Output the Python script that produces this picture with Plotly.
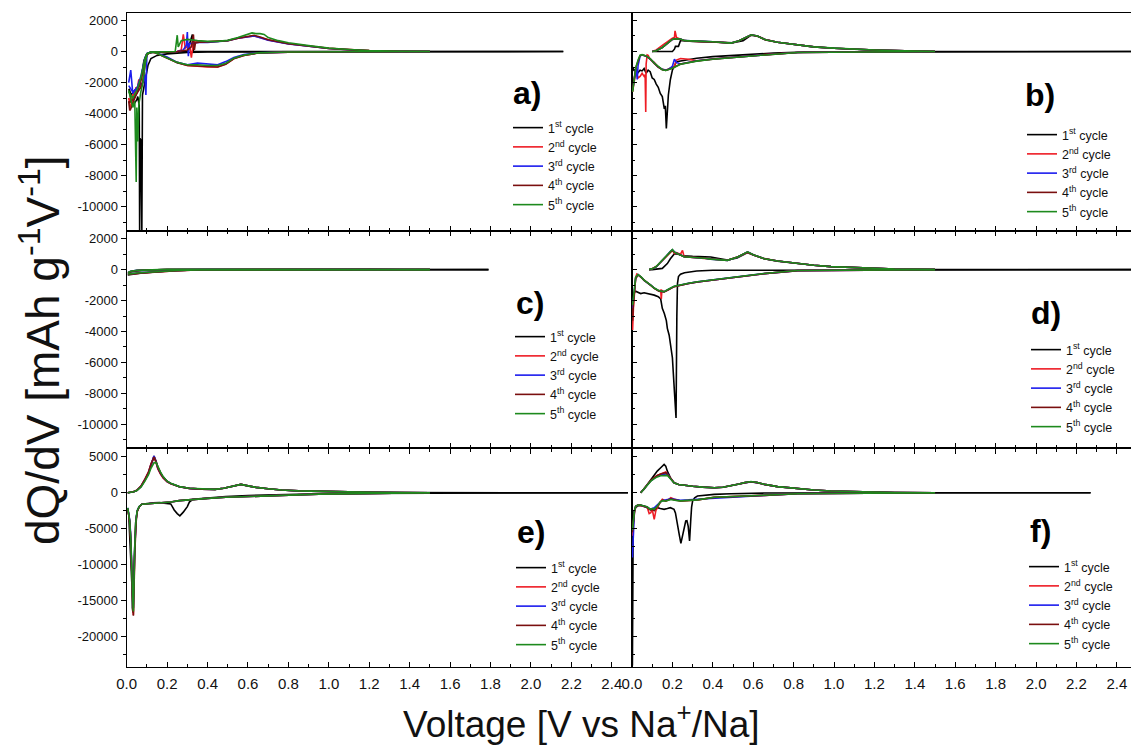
import plotly.graph_objects as go

N = None
# ---------------- panel a ----------------
a1_v = [2.16,1.5,1.0,0.6,0.4,0.3,0.2,0.15,0.12,0.105,0.095,0.085,0.078,0.075,0.073,0.07,0.066,0.064,0.062,0.058,0.055,0.05,0.04,0.03,0.02,0.012,N,
        0.012,0.02,0.04,0.06,0.075,0.085,0.1,0.13,0.18,0.25,0.3,0.325,0.33,0.5,1.0,2.16]
a1_q = [0,0,0,-10,-30,-60,-150,-250,-450,-900,-1600,-2300,-2800,-11500,-5800,-5700,-5600,-11500,-3500,-3200,-2900,-3100,-3300,-3500,-3000,-2400,N,
        -2400,-2800,-2500,-2200,-1500,-600,-150,-60,-60,-20,0,1100,0,0,0,0]
a2_v = [1.5,1.2,1.0,0.8,0.65,0.58,0.53,0.49,0.45,0.4,0.35,0.3,0.25,0.2,0.17,0.14,0.12,0.1,0.09,0.08,0.07,0.06,0.05,0.045,0.04,0.03,0.02,0.01,N,
        0.01,0.02,0.03,0.05,0.07,0.09,0.1,0.12,0.15,0.2,0.25,0.27,0.28,0.29,0.31,0.32,0.33,0.36,0.4,0.45,0.5,0.55,0.6,0.63,0.66,0.7,0.8,0.9,1.0,1.1,1.2,1.35,1.5]
a2_q = [0,-5,-15,-40,-100,-250,-450,-800,-1000,-1000,-950,-900,-700,-400,-200,-60,-30,-200,-900,-2000,-2400,-1800,-2600,-2300,-2900,-3200,-3600,-3000,N,
        -3000,-3300,-2800,-2500,-1800,-500,-150,-50,-30,-50,0,100,1100,200,500,-400,600,650,620,650,700,850,950,1000,900,750,500,330,200,120,60,20,0]
a3_v = [1.5,1.2,1.0,0.8,0.65,0.58,0.53,0.49,0.45,0.4,0.35,0.3,0.25,0.2,0.17,0.14,0.12,0.1,0.095,0.09,0.08,0.06,0.04,0.03,0.02,0.015,0.01,N,
        0.01,0.03,0.05,0.07,0.09,0.1,0.12,0.15,0.2,0.25,0.28,0.295,0.3,0.305,0.31,0.33,0.36,0.4,0.45,0.5,0.55,0.6,0.63,0.66,0.7,0.8,0.9,1.0,1.1,1.2,1.35,1.5]
a3_q = [0,-5,-15,-40,-90,-200,-380,-650,-850,-800,-750,-850,-700,-350,-180,-50,-20,-150,-2800,-1500,-2000,-2200,-2500,-2700,-1200,-1500,-2000,N,
        -2200,-2600,-2400,-1600,-400,-120,-40,-30,-40,0,100,400,1250,-300,500,550,600,580,620,700,850,950,1000,880,730,480,320,190,110,50,15,0]
a4_v = [1.5,1.2,1.0,0.8,0.65,0.58,0.53,0.49,0.45,0.4,0.35,0.3,0.25,0.2,0.17,0.14,0.12,0.1,0.09,0.08,0.07,0.06,0.05,0.04,0.03,0.02,0.015,0.01,N,
        0.01,0.03,0.05,0.07,0.09,0.1,0.12,0.15,0.2,0.25,0.3,0.32,0.33,0.335,0.34,0.36,0.4,0.45,0.5,0.55,0.6,0.63,0.66,0.7,0.8,0.9,1.0,1.1,1.2,1.35,1.5]
a4_q = [0,-5,-15,-40,-100,-260,-470,-820,-1000,-980,-950,-900,-720,-420,-220,-70,-30,-200,-800,-1900,-2300,-2500,-2700,-3000,-3400,-3700,-3800,-3200,N,
        -3300,-3100,-2700,-1900,-500,-150,-50,-30,-50,0,100,300,1100,100,550,600,620,640,700,850,1000,1050,930,760,500,330,200,120,60,20,0]
a5_v = [1.5,1.2,1.0,0.8,0.65,0.58,0.53,0.49,0.45,0.4,0.35,0.3,0.25,0.2,0.17,0.14,0.12,0.1,0.09,0.08,0.07,0.06,0.055,0.05,0.047,0.044,0.04,0.03,0.02,0.01,N,
        0.01,0.03,0.05,0.07,0.09,0.1,0.12,0.15,0.2,0.24,0.25,0.255,0.27,0.3,0.35,0.4,0.45,0.5,0.55,0.6,0.62,0.64,0.66,0.68,0.7,0.75,0.8,0.9,1.0,1.1,1.2,1.35,1.5]
a5_q = [0,-5,-15,-35,-90,-230,-430,-750,-900,-900,-850,-850,-700,-400,-200,-60,-30,-180,-900,-2000,-2600,-3400,-5800,-3600,-8400,-4000,-3200,-3600,-3000,-2500,N,
        -2600,-3000,-2500,-1700,-450,-130,-40,-20,-30,0,1050,300,700,780,700,650,650,720,900,1100,1200,1150,1150,1100,900,700,560,380,220,130,60,20,0]

# ---------------- panel b ----------------
b1_v = [2.47,1.5,1.2,1.0,0.85,0.7,0.6,0.5,0.4,0.32,0.26,0.22,0.2,0.19,0.18,0.175,0.17,0.165,0.16,0.15,0.14,0.13,0.12,0.11,0.1,0.09,0.08,0.07,0.06,0.05,0.04,0.03,0.02,0.01,0.005,N,
        0.1,0.15,0.2,0.21,0.215,0.23,0.24,0.26,0.3,0.35,0.4,0.45,0.5,0.55,0.59,0.62,0.66,0.72,0.82,0.9,1.0,1.1,1.2,1.35,1.5,2.0,2.47]
b1_q = [0,0,0,-10,-40,-100,-170,-260,-330,-430,-540,-650,-1200,-1800,-2800,-3600,-4950,-3500,-3700,-2900,-2700,-2300,-2100,-1800,-1700,-1300,-1200,-1400,-1100,-1250,-1200,-1350,-1100,-1250,-1000,N,
        0,0,0,150,330,330,700,700,650,640,620,600,560,700,1050,1000,780,600,430,300,210,140,90,40,0,0,0]
b2_v = [1.5,1.2,1.0,0.82,0.66,0.5,0.4,0.32,0.28,0.24,0.22,0.21,0.2,0.18,0.167,0.15,0.13,0.11,0.09,0.08,0.075,0.07,0.068,0.065,0.06,0.05,0.04,0.03,0.02,0.01,0.003,N,
        0.1,0.12,0.15,0.17,0.19,0.2,0.21,0.213,0.22,0.24,0.26,0.3,0.35,0.4,0.45,0.49,0.53,0.57,0.59,0.62,0.66,0.72,0.82,0.9,1.0,1.1,1.2,1.35,1.5]
b2_q = [0,-20,-30,-65,-200,-350,-480,-600,-500,-450,-550,-950,-1000,-1150,-1200,-1150,-1000,-700,-500,-250,-220,-800,-3900,-1500,-1600,-1400,-1600,-1700,-1300,-2000,-2600,N,
        0,100,400,600,750,850,900,1330,900,800,700,660,650,630,590,540,700,950,1075,1000,770,600,430,300,215,140,100,40,0]
b3_v = [1.5,1.2,1.0,0.82,0.66,0.5,0.4,0.32,0.26,0.24,0.22,0.21,0.2,0.18,0.167,0.15,0.13,0.11,0.09,0.07,0.05,0.04,0.03,0.026,0.02,0.01,0.003,N,
        0.1,0.12,0.15,0.18,0.2,0.22,0.24,0.26,0.3,0.35,0.4,0.45,0.49,0.53,0.57,0.59,0.62,0.66,0.72,0.82,0.9,1.0,1.1,1.2,1.35,1.5]
b3_q = [0,-20,-30,-65,-210,-360,-480,-600,-720,-800,-700,-500,-950,-1150,-1200,-1150,-1000,-750,-480,-300,-220,-300,-900,-1800,-1000,-1900,-2500,N,
        0,60,250,550,780,820,800,700,660,650,630,590,540,700,950,1070,1000,760,600,430,300,215,140,100,40,0]
b4_v = [1.5,1.2,1.0,0.82,0.66,0.5,0.4,0.32,0.24,0.2,0.167,0.15,0.13,0.11,0.09,0.07,0.05,0.04,0.03,0.02,0.01,0.003,N,
        0.1,0.12,0.15,0.18,0.2,0.22,0.24,0.26,0.3,0.35,0.4,0.45,0.49,0.53,0.57,0.59,0.62,0.66,0.72,0.82,0.9,1.0,1.1,1.2,1.35,1.5]
b4_q = [0,-20,-30,-65,-215,-365,-490,-610,-810,-1080,-1220,-1170,-1000,-760,-480,-300,-210,-260,-600,-1000,-1800,-2500,N,
        0,50,250,550,780,830,790,690,650,640,620,580,530,690,940,1060,990,750,600,430,300,210,140,100,40,0]
b5_v = [1.5,1.2,1.0,0.82,0.66,0.5,0.4,0.32,0.24,0.2,0.167,0.15,0.13,0.11,0.09,0.07,0.05,0.04,0.03,0.02,0.01,0.003,N,
        0.1,0.12,0.15,0.18,0.2,0.22,0.24,0.26,0.3,0.35,0.4,0.45,0.49,0.53,0.57,0.59,0.62,0.66,0.72,0.82,0.9,1.0,1.1,1.2,1.35,1.5]
b5_q = [0,-20,-30,-65,-220,-370,-500,-620,-820,-1075,-1225,-1170,-980,-740,-450,-280,-200,-240,-550,-970,-1900,-2600,N,
        0,50,260,560,790,820,800,700,660,650,630,590,540,700,950,1080,1000,760,600,440,300,220,140,100,40,0]

# ---------------- panel c ----------------
c1_v = [1.79,1.5,1.0,0.6,0.4,0.3,0.2,0.15,0.1,0.07,0.05,0.035,0.02,0.01,0.005,N,
        0.005,0.02,0.05,0.1,0.2,0.4,0.7,1.0,1.08,1.2,1.5,1.79]
c1_q = [0,0,0,-5,-15,-40,-90,-130,-180,-230,-260,-280,-330,-300,-340,N,
        -250,-150,-80,-30,0,10,20,30,40,20,5,0]
c2_v = [1.5,1.2,1.0,0.7,0.5,0.35,0.25,0.18,0.126,0.08,0.05,0.035,0.02,0.007,N,
        0.007,0.02,0.05,0.1,0.2,0.4,0.7,1.0,1.08,1.2,1.35,1.5]
c2_q = [0,0,-5,-10,-15,-25,-70,-110,-150,-200,-240,-260,-280,-300,N,
        -200,-120,-60,-20,10,20,30,40,55,25,10,0]
c3_v = c2_v
c3_q = [0,0,-5,-10,-15,-20,-60,-100,-140,-190,-230,-250,-270,-290,N,
        -190,-110,-50,-20,10,20,30,45,50,25,10,0]
c4_v = c2_v
c4_q = [0,0,-5,-10,-15,-25,-70,-110,-150,-210,-250,-270,-300,-320,N,
        -210,-120,-60,-20,10,20,30,40,50,25,10,0]
c5_v = c2_v
c5_q = [0,0,-5,-10,-15,-20,-60,-100,-140,-190,-220,-240,-260,-280,N,
        -180,-100,-50,-15,15,25,35,45,50,25,10,0]

# ---------------- panel d ----------------
d1_v = [2.47,1.5,1.0,0.82,0.66,0.5,0.4,0.32,0.26,0.24,0.23,0.225,0.222,0.218,0.215,0.21,0.2,0.19,0.184,0.175,0.17,0.16,0.15,0.142,0.13,0.11,0.09,0.076,0.06,0.043,0.03,0.018,0.01,0.005,N,
        0.085,0.1,0.15,0.175,0.19,0.21,0.23,0.25,0.3,0.35,0.39,0.43,0.473,0.52,0.55,0.572,0.6,0.655,0.72,0.82,0.9,0.985,1.15,1.3,1.5,2.0,2.47]
d1_q = [0,0,0,0,0,-20,-40,-90,-200,-300,-450,-900,-3000,-9600,-8600,-7900,-5700,-4700,-4240,-3800,-3300,-2840,-2500,-1900,-1750,-1650,-1600,-1550,-1500,-1550,-1450,-1400,-1500,-1870,N,
        0,0,80,390,700,1030,1000,900,860,850,820,720,620,750,950,1100,950,700,550,390,280,195,108,40,0,0,0]
d2_v = [1.5,1.15,0.82,0.655,0.49,0.4,0.324,0.28,0.24,0.208,0.18,0.159,0.148,0.145,0.142,0.134,0.11,0.093,0.075,0.06,0.045,0.03,0.024,0.018,0.012,0.007,0.003,N,
        0.085,0.1,0.12,0.142,0.17,0.19,0.2,0.21,0.22,0.24,0.25,0.258,0.29,0.324,0.36,0.39,0.43,0.473,0.52,0.55,0.572,0.6,0.655,0.72,0.82,0.9,0.985,1.15,1.3,1.5]
d2_q = [0,-20,-65,-260,-515,-650,-800,-900,-1010,-1100,-1300,-1440,-1350,-1900,-1300,-1400,-1200,-1010,-850,-690,-500,-320,-280,-500,-1400,-2500,-3900,N,
        0,60,200,500,900,1150,1250,1050,1100,1000,1250,830,800,780,740,680,640,600,800,1000,1130,950,700,560,390,280,195,108,40,0]
d3_v = [1.5,1.15,0.82,0.655,0.49,0.4,0.324,0.28,0.24,0.208,0.18,0.159,0.134,0.11,0.093,0.075,0.06,0.045,0.03,0.018,0.012,0.007,0.003,N,
        0.085,0.1,0.12,0.142,0.17,0.19,0.2,0.21,0.24,0.258,0.29,0.324,0.36,0.39,0.43,0.473,0.52,0.55,0.572,0.6,0.655,0.72,0.82,0.9,0.985,1.15,1.3,1.5]
d3_q = [0,-20,-65,-255,-510,-640,-790,-890,-1000,-1090,-1280,-1430,-1380,-1200,-1010,-850,-690,-480,-330,-550,-1200,-1700,-2500,N,
        0,50,180,470,880,1180,1280,1150,950,830,800,780,740,680,640,600,800,1010,1150,960,700,560,390,280,195,108,40,0]
d4_v = d3_v
d4_q = [0,-20,-65,-260,-515,-650,-800,-900,-1010,-1100,-1300,-1440,-1390,-1210,-1020,-860,-700,-490,-330,-600,-1400,-2200,-3300,N,
        0,55,190,480,890,1170,1260,1120,960,840,810,790,750,690,650,610,810,1020,1140,960,710,560,390,280,195,108,40,0]
d5_v = d3_v
d5_q = [0,-20,-60,-250,-500,-630,-780,-880,-990,-1080,-1270,-1420,-1370,-1190,-1000,-840,-680,-470,-320,-500,-1100,-1600,-2300,N,
        0,50,200,500,900,1200,1300,1130,950,830,800,780,740,680,640,600,800,1010,1150,960,700,560,390,280,195,108,40,0]

# ---------------- panel e ----------------
e1_v = [2.48,1.5,1.13,0.95,0.766,0.6,0.49,0.4,0.327,0.31,0.3,0.28,0.263,0.25,0.235,0.218,0.19,0.163,0.13,0.09,0.075,0.062,0.052,0.044,0.04,0.035,0.031,0.028,0.026,0.023,0.02,0.015,0.01,0.005,N,
        0.005,0.02,0.035,0.05,0.071,0.09,0.108,0.12,0.126,0.135,0.145,0.154,0.167,0.18,0.2,0.218,0.26,0.31,0.37,0.437,0.48,0.51,0.54,0.565,0.6,0.64,0.7,0.766,0.85,0.95,1.1,1.22,1.35,1.5,2.0,2.48]
e1_q = [0,0,-90,-150,-230,-380,-550,-750,-920,-1300,-1930,-2700,-3220,-2900,-2390,-1560,-1420,-1380,-1400,-1470,-1600,-1930,-2600,-4230,-7000,-11130,-16650,-16000,-13000,-11000,-8830,-5500,-3000,-2160,N,
        0,60,140,300,830,1700,2670,3700,4280,5100,4400,3600,2800,2200,1600,1290,850,600,500,460,620,830,1050,1150,950,740,550,370,260,180,90,46,20,0,0,0]
e2_v = [1.5,1.13,0.95,0.766,0.6,0.49,0.4,0.31,0.26,0.218,0.19,0.163,0.13,0.09,0.075,0.062,0.052,0.048,0.044,0.04,0.037,0.035,0.033,0.03,0.027,0.024,0.02,0.015,0.01,0.005,N,
        0.005,0.02,0.035,0.05,0.071,0.09,0.108,0.12,0.13,0.135,0.145,0.154,0.167,0.18,0.2,0.218,0.26,0.31,0.37,0.437,0.48,0.51,0.54,0.565,0.6,0.64,0.7,0.766,0.85,0.95,1.1,1.22,1.35,1.5]
e2_q = [0,-120,-200,-370,-500,-640,-780,-920,-1100,-1290,-1350,-1380,-1400,-1470,-1600,-1930,-2600,-3500,-5000,-8000,-12000,-15500,-17000,-15000,-12000,-9000,-6500,-4000,-2800,-2200,N,
        0,80,160,350,950,1900,2900,4000,4800,5000,4200,3300,2600,2050,1500,1250,820,600,500,460,620,830,1050,1150,950,740,550,370,260,180,90,46,20,0]
e3_v = e2_v
e3_q = [0,-120,-200,-370,-500,-640,-780,-920,-1100,-1290,-1350,-1380,-1400,-1470,-1600,-1930,-2500,-3300,-4800,-7500,-11000,-14500,-16000,-14500,-11500,-8500,-6000,-3800,-2700,-2100,N,
        0,70,150,320,900,1800,2800,3900,4700,5100,4300,3400,2700,2100,1550,1270,830,600,500,460,620,830,1050,1150,950,740,550,370,260,180,90,46,20,0]
e4_v = e2_v
e4_q = [0,-120,-200,-370,-500,-640,-780,-920,-1100,-1290,-1350,-1380,-1400,-1470,-1600,-1930,-2600,-3500,-5200,-8300,-12500,-16000,-17100,-15200,-12000,-9000,-6500,-4000,-2800,-2200,N,
        0,70,150,330,920,1850,2850,3950,4750,4950,4300,3450,2700,2100,1550,1260,830,600,500,460,620,830,1050,1150,950,740,550,370,260,180,90,46,20,0]
e5_v = e2_v
e5_q = [0,-120,-200,-370,-500,-640,-780,-920,-1100,-1290,-1350,-1380,-1400,-1470,-1600,-1900,-2500,-3300,-4700,-7500,-11500,-15000,-16500,-14800,-11800,-8800,-6300,-3900,-2700,-2100,N,
        0,60,140,300,800,1600,2500,3400,3900,4150,4200,3600,2900,2250,1600,1300,850,610,500,460,620,840,1060,1150,950,740,550,370,260,180,90,46,20,0]

# ---------------- panel f ----------------
f1_v = [2.27,1.5,1.0,0.8,0.655,0.49,0.407,0.324,0.31,0.3,0.295,0.291,0.285,0.278,0.272,0.266,0.258,0.25,0.242,0.235,0.225,0.215,0.208,0.19,0.175,0.159,0.14,0.126,0.11,0.093,0.075,0.06,0.045,0.035,0.02,0.01,0.006,0.004,0.002,N,
        0.043,0.06,0.075,0.093,0.11,0.125,0.142,0.159,0.167,0.175,0.19,0.208,0.23,0.258,0.3,0.35,0.407,0.45,0.49,0.53,0.56,0.589,0.62,0.655,0.72,0.82,0.9,0.985,1.15,1.3,1.5,2.0,2.27]
f1_q = [0,0,0,-20,-50,-140,-230,-460,-700,-1160,-2000,-3700,-6700,-4630,-3900,-3935,-5090,-6200,-7040,-6000,-4170,-2800,-2315,-2080,-2200,-2315,-2200,-2080,-2200,-2300,-2100,-1850,-1800,-1760,-2000,-2550,-4170,-12000,-24000,N,
        0,500,1100,1850,2500,3000,3470,3935,3700,3000,2100,1390,1150,1020,900,780,695,750,925,1200,1400,1530,1400,1160,850,555,380,230,90,40,0,0,0]
f2_v = [1.5,1.15,0.82,0.655,0.49,0.407,0.324,0.28,0.24,0.21,0.192,0.18,0.167,0.15,0.14,0.126,0.118,0.11,0.1,0.093,0.085,0.075,0.06,0.043,0.03,0.018,0.012,0.008,0.005,0.002,N,
        0.043,0.06,0.075,0.093,0.11,0.125,0.142,0.155,0.167,0.175,0.19,0.208,0.23,0.258,0.3,0.35,0.407,0.45,0.49,0.53,0.56,0.589,0.62,0.655,0.72,0.82,0.9,0.985,1.15,1.3,1.5]
f2_q = [0,-50,-140,-370,-550,-640,-1020,-1100,-1160,-900,-695,-1000,-1160,-900,-1300,-2080,-2500,-3700,-2300,-2780,-2900,-2000,-1900,-1710,-1700,-1900,-2800,-4000,-5000,-6000,N,
        0,600,1160,1700,2100,2400,2600,2800,2870,2600,2000,1390,1150,1020,900,780,695,750,925,1200,1400,1530,1400,1160,850,555,380,230,90,40,0]
f3_v = f2_v
f3_q = [0,-50,-140,-370,-600,-700,-900,-1000,-1050,-900,-800,-900,-1000,-1100,-1300,-1700,-1900,-2100,-2200,-2300,-2200,-2000,-1900,-1700,-1700,-1900,-2600,-4500,-7000,-9000,N,
        0,550,1100,1650,2000,2300,2450,2550,2600,2640,2000,1390,1150,1020,900,780,695,750,925,1200,1400,1500,1400,1160,850,555,380,230,90,40,0]
f4_v = f2_v
f4_q = [0,-50,-140,-370,-560,-650,-1000,-1080,-1150,-1000,-850,-1000,-1150,-1050,-1300,-1900,-2200,-2500,-2300,-2400,-2300,-2000,-1900,-1700,-1700,-1900,-2700,-4000,-5000,-5500,N,
        0,580,1150,1700,2100,2400,2600,2750,2780,2550,1950,1390,1150,1020,900,780,695,750,925,1200,1400,1520,1400,1160,850,555,380,230,90,40,0]
f5_v = f2_v
f5_q = [0,-50,-140,-360,-540,-630,-1000,-1080,-1140,-1050,-950,-1050,-1150,-1100,-1300,-1850,-2100,-2300,-2200,-2300,-2200,-1950,-1850,-1700,-1700,-1900,-2600,-3800,-4800,-5200,N,
        0,520,1050,1600,1950,2200,2350,2380,2400,2400,1950,1390,1150,1020,900,780,695,750,925,1200,1420,1550,1420,1170,850,555,380,230,90,40,0]

cycle_names = ["1<sup>st</sup> cycle", "2<sup>nd</sup> cycle", "3<sup>rd</sup> cycle",
               "4<sup>th</sup> cycle", "5<sup>th</sup> cycle"]
cycle_colors = ["#000000", "#ee1c24", "#1c1cee", "#7a0f0f", "#1d8a1d"]
panel_labels = ["a)", "b)", "c)", "d)", "e)", "f)"]
x_tick_vals = [0.0, 0.2, 0.4, 0.6, 0.8, 1.0, 1.2, 1.4, 1.6, 1.8, 2.0, 2.2, 2.4]
x_tick_text = ["0.0", "0.2", "0.4", "0.6", "0.8", "1.0", "1.2", "1.4", "1.6", "1.8", "2.0", "2.2", "2.4"]
y_ticks_top = [-10000, -8000, -6000, -4000, -2000, 0, 2000]
y_ticks_bot = [-20000, -15000, -10000, -5000, 0, 5000]

panels = [
    [(a1_v, a1_q), (a2_v, a2_q), (a3_v, a3_q), (a4_v, a4_q), (a5_v, a5_q)],
    [(b1_v, b1_q), (b2_v, b2_q), (b3_v, b3_q), (b4_v, b4_q), (b5_v, b5_q)],
    [(c1_v, c1_q), (c2_v, c2_q), (c3_v, c3_q), (c4_v, c4_q), (c5_v, c5_q)],
    [(d1_v, d1_q), (d2_v, d2_q), (d3_v, d3_q), (d4_v, d4_q), (d5_v, d5_q)],
    [(e1_v, e1_q), (e2_v, e2_q), (e3_v, e3_q), (e4_v, e4_q), (e5_v, e5_q)],
    [(f1_v, f1_q), (f2_v, f2_q), (f3_v, f3_q), (f4_v, f4_q), (f5_v, f5_q)],
]

W, H = 1131, 746
X0, XM, X1 = 126.7, 632.0, 1131.0
ROWS = [(12.7, 231.0), (231.0, 448.3), (448.3, 666.7)]
YR_TOP = [-11560, 2500]
YR_BOT = [-24170, 6170]
LEG_POS = [(508, 113), (1022, 120), (510, 322), (1026, 335), (511, 553), (1024, 552)]
LAB_POS = [(527, 93), (1040, 95), (530, 303), (1046, 313), (531, 532), (1040, 531)]

FONT = "Liberation Sans, Arial, sans-serif"
NARROW = "Liberation Sans Narrow, Arial Narrow, Liberation Sans, Arial, sans-serif"

fig = go.Figure()
layout = dict(width=W, height=H, margin=dict(l=0, r=0, t=0, b=0, autoexpand=False),
              paper_bgcolor="white", plot_bgcolor="white", showlegend=True,
              font=dict(family=FONT, color="#111111"))
annotations = []

for p, curves in enumerate(panels):
    row, col = p // 2, p % 2
    sfx = "" if p == 0 else str(p + 1)
    leg = "legend" + sfx
    for k, (v, q) in enumerate(curves):
        fig.add_trace(go.Scatter(x=v, y=q, mode="lines", name=cycle_names[k],
                                 line=dict(color=cycle_colors[k], width=1.6),
                                 connectgaps=False, xaxis="x" + sfx, yaxis="y" + sfx,
                                 legend=leg, hoverinfo="skip"))
    top, bot = ROWS[row]
    xd = [X0 / W, XM / W] if col == 0 else [XM / W, X1 / W]
    yd = [1 - bot / H, 1 - top / H]
    layout["xaxis" + sfx] = dict(
        domain=xd, anchor="y" + sfx, range=[0, 2.5] if col == 0 else [0, 2.47],
        tickmode="array", tickvals=x_tick_vals, ticktext=x_tick_text,
        showticklabels=(row == 2), ticks="inside", ticklen=5, tickwidth=1.2, tickcolor="black",
        minor=dict(dtick=0.1, tick0=0, ticks="inside", ticklen=3, tickwidth=1.2, tickcolor="black"),
        showline=True, linecolor="black", linewidth=1.4,
        mirror=("ticks" if row > 0 else True),
        showgrid=False, zeroline=False, fixedrange=True, ticklabelstandoff=3,
        tickfont=dict(family=NARROW, size=15, color="#111111"))
    yt = y_ticks_top if row < 2 else y_ticks_bot
    layout["yaxis" + sfx] = dict(
        domain=yd, anchor="x" + sfx, range=YR_TOP if row < 2 else YR_BOT,
        tickmode="array", tickvals=yt, ticktext=[str(t) for t in yt],
        showticklabels=(col == 0), ticks=("outside" if col == 0 else "inside"),
        ticklen=5, tickwidth=1.2, tickcolor="black",
        minor=dict(dtick=(1000 if row < 2 else 2500), tick0=0,
                   ticks=("outside" if col == 0 else "inside"), ticklen=3, tickwidth=1.2, tickcolor="black"),
        showline=True, linecolor="black", linewidth=1.4, mirror=True,
        showgrid=False, zeroline=False, fixedrange=True,
        tickfont=dict(family=FONT, size=13, color="#111111"))
    lx, ly = LEG_POS[p]
    layout[leg] = dict(x=lx / W, y=1 - ly / H, xanchor="left", yanchor="top",
                       bgcolor="rgba(0,0,0,0)", borderwidth=0,
                       font=dict(family=FONT, size=12.5, color="#111111"),
                       tracegroupgap=0)
    tx, ty = LAB_POS[p]
    annotations.append(dict(text="<b>" + panel_labels[p] + "</b>", x=tx / W, y=1 - ty / H,
                            xref="paper", yref="paper", showarrow=False,
                            xanchor="center", yanchor="middle",
                            font=dict(family=FONT, size=32, color="black")))

annotations.append(dict(text="Voltage [V vs Na<sup>+</sup>/Na]", x=581 / W, y=1 - 721 / H,
                        xref="paper", yref="paper", showarrow=False, xanchor="center", yanchor="middle",
                        font=dict(family=FONT, size=37, color="#111111")))
annotations.append(dict(text="dQ/dV [mAh g<sup>-1</sup>V<sup>-1</sup>]", x=40 / W, y=1 - 350 / H,
                        xref="paper", yref="paper", showarrow=False, xanchor="center", yanchor="middle",
                        textangle=-90, font=dict(family=FONT, size=46, color="#111111")))
layout["annotations"] = annotations
fig.update_layout(**layout)
fig.write_html("out.html")
